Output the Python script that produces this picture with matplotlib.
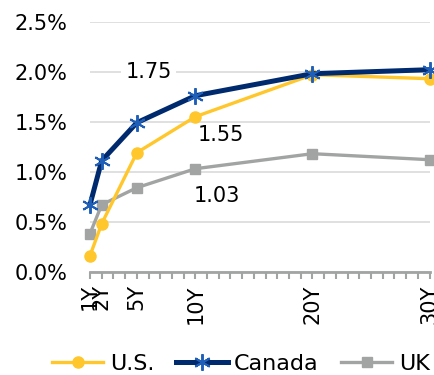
import matplotlib
matplotlib.use("Agg")
import matplotlib.pyplot as plt
from matplotlib.ticker import FixedLocator, MultipleLocator, FuncFormatter

# tenor in years and labels
tenors = [1, 2, 5, 10, 20, 30]
tenor_labels = ["1Y", "2Y", "5Y", "10Y", "20Y", "30Y"]

# yields in %
us_yields = [0.16, 0.48, 1.19, 1.55, 1.97, 1.93]
canada_yields = [0.67, 1.11, 1.49, 1.76, 1.98, 2.02]
uk_yields = [0.38, 0.67, 0.84, 1.03, 1.18, 1.12]

# annotated 10Y values
callout_text = ["1.75", "1.55", "1.03"]

YELLOW = "#FFC72C"
NAVY = "#002A6E"
STAR_BLUE = "#1F5FB8"
GREY = "#A2A4A3"

plt.rcParams["font.family"] = ["DejaVu Sans"]
plt.rcParams["font.size"] = 15

fig = plt.figure(figsize=(4.34, 3.75), dpi=100)
ax = fig.add_axes([90 / 434, 103.3 / 375, 339.5 / 434, 250 / 375])

ax.plot(tenors, uk_yields, color=GREY, lw=2.4, marker="s", ms=7,
        mfc=GREY, mec=GREY, label="UK", clip_on=False, zorder=3)
ax.plot(tenors, us_yields, color=YELLOW, lw=2.4, marker="o", ms=8,
        mfc=YELLOW, mec=YELLOW, label="U.S.", clip_on=False, zorder=4)
ax.plot(tenors, canada_yields, color=NAVY, lw=3.6, marker=(6, 2, 0), ms=12,
        mec=STAR_BLUE, mew=1.4, label="Canada", clip_on=False, zorder=5)

# value callouts
ax.text(6.0, 2.0, callout_text[0], ha="center", va="center", fontsize=15,
        bbox=dict(facecolor="white", edgecolor="none", pad=3), zorder=2)
ax.text(12.2, 1.37, callout_text[1], ha="center", va="center", fontsize=15, zorder=2)
ax.text(11.8, 0.76, callout_text[2], ha="center", va="center", fontsize=15, zorder=2)

ax.set_xlim(1, 30)
ax.set_ylim(0, 2.5)
ax.xaxis.set_major_locator(FixedLocator(tenors))
ax.set_xticklabels(tenor_labels, rotation=90, va="top", ha="center")
ax.xaxis.set_minor_locator(MultipleLocator(1))
ax.tick_params(axis="x", which="both", length=5, width=1.5, color=GREY, pad=4)
ax.yaxis.set_major_locator(MultipleLocator(0.5))
ax.yaxis.set_major_formatter(FuncFormatter(lambda v, p: f"{v:.1f}%"))
ax.tick_params(axis="y", length=0, pad=16)
ax.grid(axis="y", color="#DADADA", lw=1.2)
ax.set_axisbelow(True)

for s in ["top", "right", "left"]:
    ax.spines[s].set_visible(False)
ax.spines["bottom"].set_color(GREY)
ax.spines["bottom"].set_linewidth(2)

handles, labels = ax.get_legend_handles_labels()
order = [1, 2, 0]
fig.legend([handles[i] for i in order], [labels[i] for i in order],
           loc="center", bbox_to_anchor=(0.555, 0.03), ncol=3, frameon=False,
           fontsize=16, handlelength=2.3, handletextpad=0.3, columnspacing=1.0,
           borderaxespad=0, borderpad=0)

fig.savefig("out.png", dpi=100)
